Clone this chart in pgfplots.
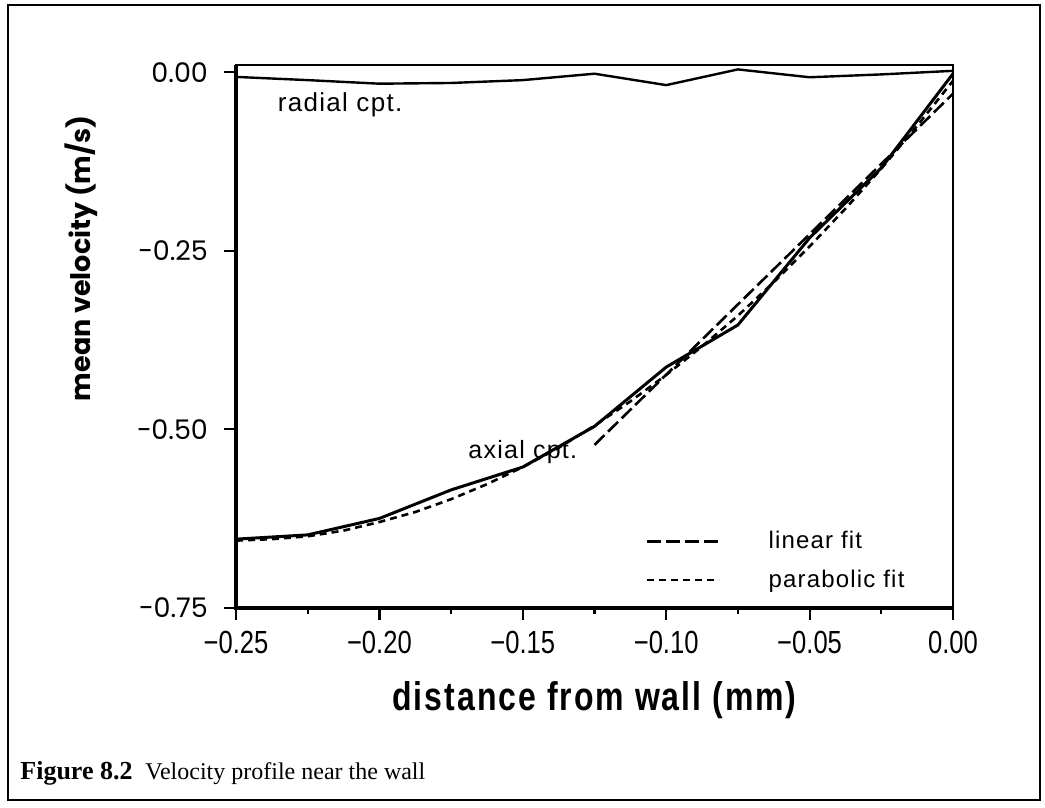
\documentclass[border=0pt]{standalone}
\usepackage{fontspec}
\usepackage{pgfplots}
\pgfplotsset{compat=1.18}
\setmainfont{Liberation Serif}
\newfontfamily\ytickfont{Poppins}
\newfontfamily\xfont[FakeStretch=0.8]{Liberation Sans}
\newfontfamily\xlabfont[FakeStretch=0.8, LetterSpace=5]{Liberation Sans}
\newfontfamily\lblfont[LetterSpace=5]{Liberation Sans}

% measured velocity components across the near-wall region
\pgfplotstableread{
x       v
-0.250  -0.0065
-0.225  -0.011
-0.200  -0.016
-0.175  -0.015
-0.150  -0.011
-0.125  -0.002
-0.100  -0.018
-0.075   0.004
-0.050  -0.007
-0.025  -0.003
 0.000   0.002
}\radial
\pgfplotstableread{
x       v
-0.250  -0.654
-0.225  -0.648
-0.200  -0.625
-0.175  -0.585
-0.150  -0.553
-0.125  -0.496
-0.100  -0.413
-0.075  -0.354
-0.050  -0.232
-0.025  -0.134
 0.000  -0.002
}\axial
\pgfplotstableread{
x       v
-0.125  -0.522
 0.000  -0.030
}\linfit
\pgfplotstableread{
x        v
-0.2500  -0.656
-0.2375  -0.654
-0.2250  -0.650
-0.2125  -0.642
-0.2000  -0.630
-0.1875  -0.616
-0.1750  -0.598
-0.1625  -0.577
-0.1500  -0.553
-0.1375  -0.526
-0.1250  -0.495
-0.1125  -0.461
-0.1000  -0.424
-0.0875  -0.384
-0.0750  -0.341
-0.0625  -0.294
-0.0500  -0.244
-0.0375  -0.191
-0.0250  -0.135
-0.0125  -0.075
 0.0000  -0.012
}\parfit

\begin{document}
\begin{tikzpicture}[x=1pt,y=1pt]
\useasboundingbox (0,0) rectangle (522.5,404);
\draw[line width=1.3pt] (4,4) rectangle (520,401.5);
\begin{axis}[
  at={(118pt,100.15pt)}, anchor=south west,
  scale only axis, width=358.5pt, height=271.35pt,
  xmin=-0.25, xmax=0, ymin=-0.75, ymax=0.0102,
  axis line style={line width=1.0pt},
  xtick={-0.25,-0.2,-0.15,-0.1,-0.05,0},
  xticklabels={−0.25,−0.20,−0.15,−0.10,−0.05,0.00},
  minor xtick={-0.225,-0.175,-0.125,-0.075,-0.025},
  ytick={-0.75,-0.5,-0.25,0},
  yticklabels={−0.75,−0.50,−0.25,0.00},
  tick align=outside, xtick pos=bottom, ytick pos=left,
  major tick length=6pt, minor tick length=3pt,
  tick style={line width=1.1pt, black},
  xticklabel style={font=\xfont\fontsize{16}{16}\selectfont, yshift=-2pt},
  yticklabel style={font=\ytickfont\fontsize{13.5}{13.5}\selectfont, xshift=-4.5pt},
  xlabel={distance from wall (mm)},
  xlabel style={font=\xlabfont\bfseries\fontsize{20}{20}\selectfont,
    at={(axis description cs:0.5,-0.17)}, anchor=center},
  ylabel={mean velocity (m/s)},
  ylabel style={font=\ytickfont\bfseries\fontsize{13.5}{13.5}\selectfont,
    at={(axis description cs:-0.216,0.644)}, anchor=center},
  legend image code/.code={\draw[#1] (0pt,0pt) -- (36pt,0pt); \path (58pt,0pt);},
  legend style={draw=none, fill=none, at={(axis cs:-0.1072,-0.637)}, anchor=north west,
    font=\lblfont\fontsize{12}{12}\selectfont, row sep=5pt, inner sep=0pt},
  legend cell align=left,
  clip=false,
]
\addplot[black, line width=1.2pt, forget plot] table[x=x,y=v]{\radial};
\addplot[black, line width=1.5pt, forget plot] table[x=x,y=v]{\axial};
\addplot[black, line width=1.3pt, dash pattern=on 7pt off 2.5pt] table[x=x,y=v]{\linfit};
\addlegendentry{linear fit}
\addplot[black, line width=1.3pt, dash pattern=on 3.5pt off 2.5pt] table[x=x,y=v]{\parfit};
\addlegendentry{parabolic fit}
\draw[line width=2pt] (rel axis cs:0,1) -- (rel axis cs:0,0) -- (rel axis cs:1,0);
\node[font=\lblfont\fontsize{13}{13}\selectfont] at (axis cs:-0.2137,-0.046) {radial cpt.};
\node[font=\lblfont\fontsize{12.5}{12.5}\selectfont] at (axis cs:-0.150,-0.532) {axial cpt.};
\end{axis}
\node[anchor=base west, inner sep=0pt, font=\bfseries\fontsize{13}{13}\selectfont] at (10,14) {Figure 8.2};
\node[anchor=base west, inner sep=0pt, font=\fontsize{12}{12}\selectfont] at (72.5,14) {Velocity profile near the wall};
\end{tikzpicture}
\end{document}
